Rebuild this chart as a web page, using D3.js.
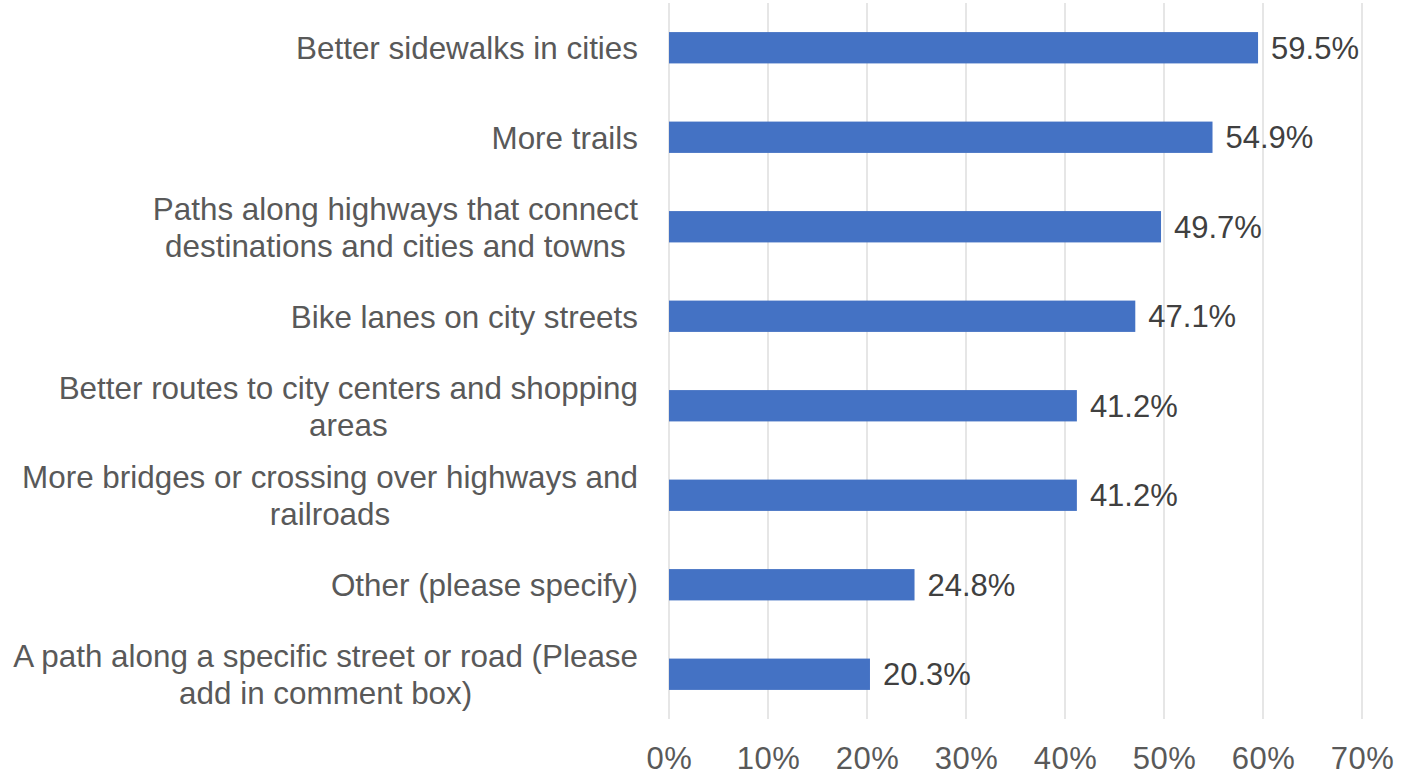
<!DOCTYPE html>
<html>
<head>
<meta charset="utf-8">
<script src="https://cdn.jsdelivr.net/npm/d3@7"></script>
<style>
  html, body { margin: 0; padding: 0; background: #ffffff; }
  svg { display: block; font-family: "Liberation Sans", Arial, sans-serif; }
</style>
</head>
<body>
<svg id="chart" width="1422" height="776"></svg>
<script>
// Survey responses: share of respondents choosing each improvement
const categories = [
  ["Better sidewalks in cities"],
  ["More trails"],
  ["Paths along highways that connect", "destinations and cities and towns"],
  ["Bike lanes on city streets"],
  ["Better routes to city centers and shopping", "areas"],
  ["More bridges or crossing over highways and", "railroads"],
  ["Other (please specify)"],
  ["A path along a specific street or road (Please", "add in comment box)"]
];
const values = [59.5, 54.9, 49.7, 47.1, 41.2, 41.2, 24.8, 20.3];
const tickValues = [0, 10, 20, 30, 40, 50, 60, 70];

const svg = d3.select("#chart");
const plot = { left: 669, right: 1362, top: 3, bottom: 719 };
const labelRight = 638;
const fontSize = 31;
const catFontSize = 31.4;

const x = d3.scaleLinear().domain([0, 70]).range([plot.left, plot.right]);
const y = d3.scaleBand()
  .domain(d3.range(values.length))
  .range([plot.top, plot.bottom])
  .paddingInner(0.65)
  .paddingOuter(0.325);

// Vertical gridlines
svg.append("g")
  .selectAll("line")
  .data(tickValues)
  .join("line")
  .attr("x1", d => x(d)).attr("x2", d => x(d))
  .attr("y1", plot.top).attr("y2", plot.bottom)
  .attr("stroke", "#d9d9d9")
  .attr("stroke-width", 1.3);

// Bottom axis tick labels
const axis = d3.axisBottom(x).tickValues(tickValues).tickFormat(d => d + "%").tickSize(0);
const axisG = svg.append("g")
  .attr("transform", `translate(0, ${plot.bottom})`)
  .call(axis);
axisG.select(".domain").remove();
axisG.selectAll("text")
  .attr("y", 50)
  .attr("dy", 0)
  .attr("fill", "#595959")
  .style("font-size", fontSize + "px")
  .style("letter-spacing", "0.5px")
  .style("font-family", "\"Liberation Sans\", Arial, sans-serif");

// Bars
svg.append("g")
  .selectAll("rect")
  .data(values)
  .join("rect")
  .attr("x", x(0))
  .attr("y", (d, i) => y(i))
  .attr("width", d => x(d) - x(0))
  .attr("height", y.bandwidth())
  .attr("fill", "#4472c4");

// Value labels
svg.append("g")
  .selectAll("text")
  .data(values)
  .join("text")
  .attr("x", d => x(d) + 13)
  .attr("y", (d, i) => y(i) + y.bandwidth() / 2)
  .attr("dy", "0.36em")
  .attr("fill", "#404040")
  .style("font-size", fontSize + "px")
  .text(d => d.toFixed(1) + "%");

// Category labels: lines centred within a block whose right edge is fixed
const lineGap = 37;
const catG = svg.append("g");
categories.forEach((lines, i) => {
  const cy = y(i) + y.bandwidth() / 2;
  const t = catG.append("text")
    .attr("fill", "#595959")
    .style("font-size", catFontSize + "px")
    .attr("text-anchor", "middle");
  lines.forEach((ln, j) => {
    t.append("tspan")
      .attr("y", cy + (j - (lines.length - 1) / 2) * lineGap)
      .attr("dy", "0.36em")
      .text(ln);
  });
  const spans = t.selectAll("tspan").nodes();
  const maxW = d3.max(spans, n => n.getComputedTextLength());
  t.selectAll("tspan").attr("x", labelRight - maxW / 2);
});
</script>
</body>
</html>
